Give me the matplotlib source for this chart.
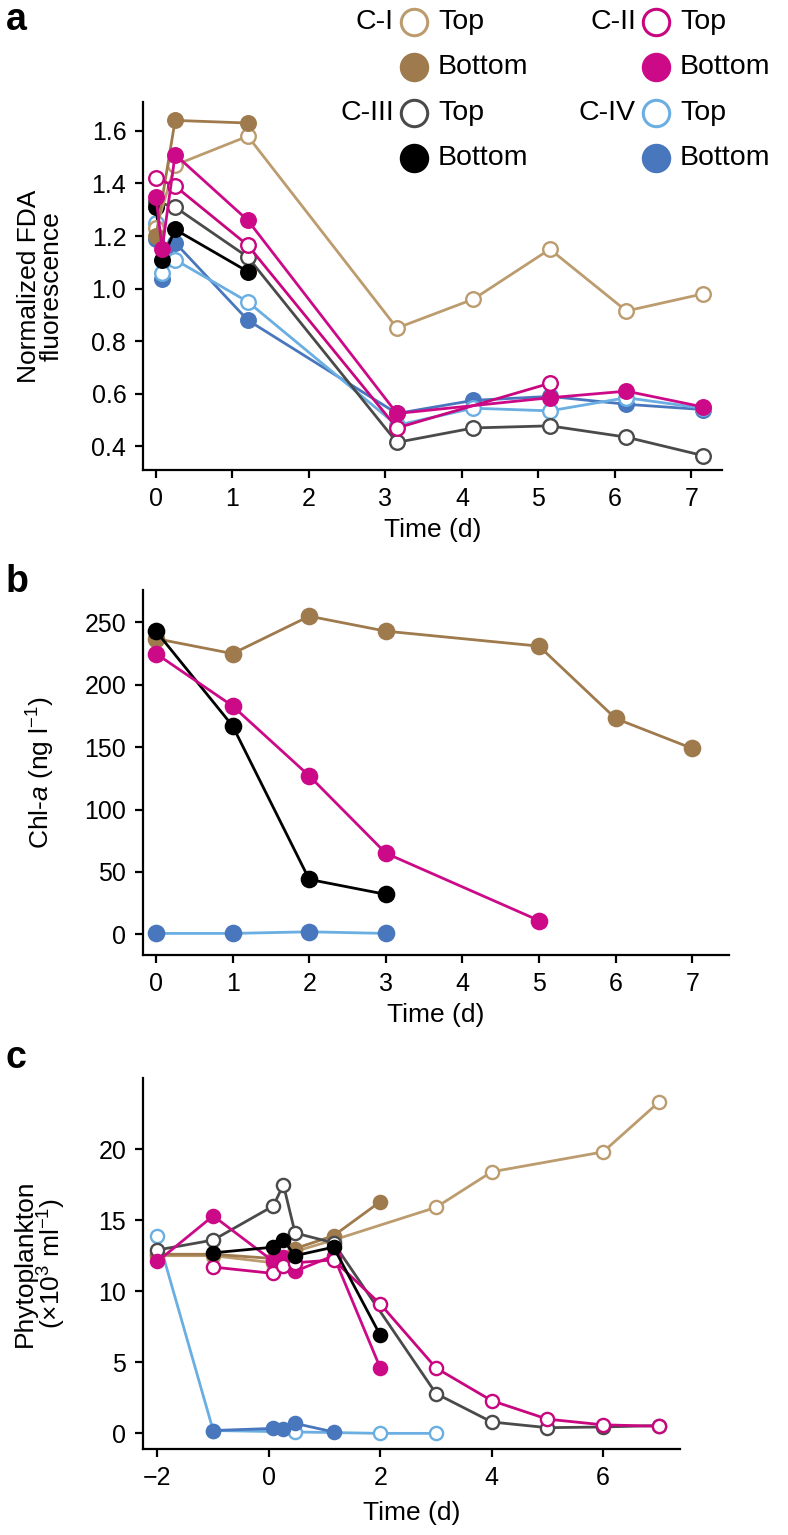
import matplotlib
matplotlib.use("Agg")
import matplotlib.pyplot as plt
import numpy as np

plt.rcParams['font.family'] = ['Liberation Sans', 'DejaVu Sans']
plt.rcParams['mathtext.fontset'] = 'custom'
plt.rcParams['mathtext.rm'] = 'Liberation Sans'
plt.rcParams['mathtext.it'] = 'Liberation Sans:italic'

# colours
C1_TOP, C1_BOT = '#BC9C6E', '#9E7A4C'
C2_TOP, C2_BOT = '#C8067F', '#CC0A88'
C3_TOP, C3_BOT = '#4A4A4A', '#000000'
C4_TOP, C4_BOT = '#6AAEE2', '#4877BE'

# ---- panel a: normalized FDA fluorescence ----
a_c1_top_t = [0, 0.25, 1.2, 3.15, 4.15, 5.15, 6.15, 7.15]
a_c1_top = [1.23, 1.47, 1.58, 0.85, 0.96, 1.15, 0.915, 0.98]
a_c1_bot_t = [0, 0.25, 1.2]
a_c1_bot = [1.20, 1.64, 1.63]
a_c2_top_t = [0, 0.25, 1.2, 3.15, 5.15]
a_c2_top = [1.42, 1.39, 1.165, 0.47, 0.64]
a_c2_bot_t = [0, 0.08, 0.25, 1.2, 3.15, 5.15, 6.15, 7.15]
a_c2_bot = [1.35, 1.15, 1.51, 1.26, 0.525, 0.585, 0.61, 0.55]
a_c3_top_t = [0, 0.25, 1.2, 3.15, 4.15, 5.15, 6.15, 7.15]
a_c3_top = [1.33, 1.31, 1.12, 0.415, 0.47, 0.478, 0.435, 0.365]
a_c3_bot_t = [0, 0.08, 0.25, 1.2]
a_c3_bot = [1.31, 1.11, 1.225, 1.065]
a_c4_top_t = [0, 0.08, 0.25, 1.2, 3.15, 4.15, 5.15, 6.15, 7.15]
a_c4_top = [1.25, 1.06, 1.11, 0.95, 0.48, 0.545, 0.535, 0.585, 0.545]
a_c4_bot_t = [0, 0.08, 0.25, 1.2, 3.15, 4.15, 5.15, 6.15, 7.15]
a_c4_bot = [1.19, 1.035, 1.175, 0.88, 0.525, 0.575, 0.59, 0.56, 0.54]

# ---- panel b: Chl-a ----
b_c1_t = [0, 1, 2, 3, 5, 6, 7]
b_c1 = [237, 225, 255, 243, 231, 173, 149]
b_c2_t = [0, 1, 2, 3, 5]
b_c2 = [225, 183, 127, 65, 11]
b_c3_t = [0, 1, 2, 3]
b_c3 = [243, 167, 44, 32]
b_c4_t = [0, 1, 2, 3]
b_c4 = [0.7, 0.7, 2.0, 0.7]

# ---- panel c: phytoplankton ----
c_c1_top_t = [-2, -1, 0.08, 0.47, 1.16, 3, 4, 6, 7]
c_c1_top = [12.5, 12.5, 12.0, 12.8, 13.6, 15.9, 18.4, 19.8, 23.3]
c_c1_bot_t = [-2, -1, 0.08, 0.47, 1.16, 2]
c_c1_bot = [12.6, 12.6, 12.3, 13.0, 13.9, 16.3]
c_c2_top_t = [-1, 0.08, 0.26, 0.47, 1.16, 2, 3, 4, 5, 6, 7]
c_c2_top = [11.7, 11.25, 11.8, 12.0, 12.2, 9.1, 4.6, 2.3, 1.0, 0.6, 0.5]
c_c2_bot_t = [-2, -1, 0.08, 0.26, 0.47, 1.16, 2]
c_c2_bot = [12.1, 15.3, 12.1, 12.4, 11.4, 12.5, 4.6]
c_c3_top_t = [-2, -1, 0.08, 0.26, 0.47, 1.16, 3, 4, 5, 6, 7]
c_c3_top = [12.9, 13.6, 16.0, 17.5, 14.1, 13.4, 2.8, 0.8, 0.4, 0.45, 0.55]
c_c3_bot_t = [-1, 0.08, 0.26, 0.47, 1.16, 2]
c_c3_bot = [12.7, 13.1, 13.6, 12.5, 13.1, 6.9]
c_c4_top_t = [-2, -1, 0.47, 2, 3]
c_c4_top = [13.9, 0.2, 0.1, 0.0, 0.0]
c_c4_bot_t = [-1, 0.08, 0.26, 0.47, 1.16]
c_c4_bot = [0.2, 0.35, 0.3, 0.7, 0.1]

W, H = 788, 1535
fig = plt.figure(figsize=(W / 100, H / 100), dpi=100)

TICK_FS = 18
LABEL_FS = 19


def ax_px(left, top, right, bottom):
    return fig.add_axes([left / W, 1 - bottom / H, (right - left) / W, (bottom - top) / H])


def style(ax):
    for s in ['top', 'right']:
        ax.spines[s].set_visible(False)
    for s in ['left', 'bottom']:
        ax.spines[s].set_linewidth(1.6)
    ax.tick_params(width=1.6, length=6, labelsize=TICK_FS, direction='out', pad=6)


def series(ax, t, v, color, filled, ms, lcolor=None, mcolor=None):
    mc = mcolor or color
    ax.plot(t, v, '-o', color=lcolor or color, lw=2, ms=ms,
            markerfacecolor=mc if filled else 'white',
            markeredgecolor=mc, markeredgewidth=1.7, clip_on=False)


# panel a
axa = ax_px(143, 102, 722, 470)
style(axa)
ms = 10.5
series(axa, a_c4_bot_t, a_c4_bot, C4_BOT, True, ms)
series(axa, a_c4_top_t, a_c4_top, C4_TOP, False, ms)
series(axa, a_c3_top_t, a_c3_top, C3_TOP, False, ms)
series(axa, a_c3_bot_t, a_c3_bot, C3_BOT, True, ms)
series(axa, a_c1_top_t, a_c1_top, C1_TOP, False, ms)
series(axa, a_c1_bot_t, a_c1_bot, C1_BOT, True, ms)
series(axa, a_c2_top_t, a_c2_top, C2_TOP, False, ms)
series(axa, a_c2_bot_t, a_c2_bot, C2_BOT, True, ms)
axa.set_xlim(-0.17, 7.4)
axa.set_ylim(0.31, 1.71)
axa.set_xticks(range(8))
axa.set_yticks([0.4, 0.6, 0.8, 1.0, 1.2, 1.4, 1.6])
axa.set_yticklabels(['0.4', '0.6', '0.8', '1.0', '1.2', '1.4', '1.6'])
axa.set_xlabel('Time (d)', fontsize=LABEL_FS, labelpad=5)
axa.set_ylabel('Normalized FDA\nfluorescence', fontsize=LABEL_FS, labelpad=20, linespacing=0.95)

# panel b
axb = ax_px(143, 590, 729, 955)
style(axb)
ms = 11
series(axb, b_c1_t, b_c1, C1_BOT, True, ms)
series(axb, b_c3_t, b_c3, C3_BOT, True, ms)
series(axb, b_c2_t, b_c2, C2_BOT, True, ms)
series(axb, b_c4_t, b_c4, C4_BOT, True, ms, lcolor=C4_TOP)
axb.set_xlim(-0.17, 7.48)
axb.set_ylim(-16.6, 276)
axb.set_xticks(range(8))
axb.set_yticks([0, 50, 100, 150, 200, 250])
axb.set_xlabel('Time (d)', fontsize=LABEL_FS, labelpad=5)
axb.set_ylabel(r'Chl-$\mathit{a}$ (ng l$^{-1}$)', fontsize=LABEL_FS, labelpad=20)

# panel c
axc = ax_px(143, 1078, 680, 1449)
style(axc)
ms = 9.5
series(axc, c_c4_top_t, c_c4_top, C4_TOP, False, ms)
series(axc, c_c4_bot_t, c_c4_bot, C4_BOT, True, ms)
series(axc, c_c1_top_t, c_c1_top, C1_TOP, False, ms)
series(axc, c_c1_bot_t, c_c1_bot, C1_BOT, True, ms)
series(axc, c_c3_top_t, c_c3_top, C3_TOP, False, ms)
series(axc, c_c2_bot_t, c_c2_bot, C2_BOT, True, ms)
series(axc, c_c2_top_t, c_c2_top, C2_TOP, False, ms)
series(axc, c_c3_bot_t, c_c3_bot, C3_BOT, True, ms)
axc.set_xlim(-2.26, 7.38)
axc.set_ylim(-1.1, 25)
axc.set_xticks([-2, 0, 2, 4, 6])
axc.set_xticklabels(['\u22122', '0', '2', '4', '6'])
axc.set_yticks([0, 5, 10, 15, 20])
axc.set_xlabel('Time (d)', fontsize=LABEL_FS, labelpad=8)
axc.set_ylabel('Phytoplankton\n' + r'($\times$10$^{3}$ ml$^{-1}$)', fontsize=LABEL_FS,
               labelpad=22, linespacing=0.95)

# overlay for panel letters and the custom legend (pixel coordinates)
ov = fig.add_axes([0, 0, 1, 1])
ov.set_xlim(0, W)
ov.set_ylim(H, 0)
ov.axis('off')
for letter, y in [('a', 20), ('b', 582), ('c', 1058)]:
    ov.text(6, y, letter, fontsize=27, fontweight='bold', va='center', ha='left')

legend_rows = [
    ('C-I', C1_TOP, False, 'Top', 'C-II', C2_TOP, False, 'Top', 22),
    ('', C1_BOT, True, 'Bottom', '', C2_BOT, True, 'Bottom', 67),
    ('C-III', C3_TOP, False, 'Top', 'C-IV', C4_TOP, False, 'Top', 113),
    ('', C3_BOT, True, 'Bottom', '', C4_BOT, True, 'Bottom', 158),
]
for g1, col1, f1, lab1, g2, col2, f2, lab2, y in legend_rows:
    for g, col, f, lab, xc in [(g1, col1, f1, lab1, 414), (g2, col2, f2, lab2, 656)]:
        ov.plot([xc], [y], 'o', ms=19, markerfacecolor=col if f else 'white',
                markeredgecolor=col, markeredgewidth=2.2)
        ov.text(xc + 24, y, lab, fontsize=20.5, va='center', ha='left')
        if g:
            ov.text(xc - 20, y, g, fontsize=20.5, va='center', ha='right')

fig.savefig('out.png', dpi=100)
